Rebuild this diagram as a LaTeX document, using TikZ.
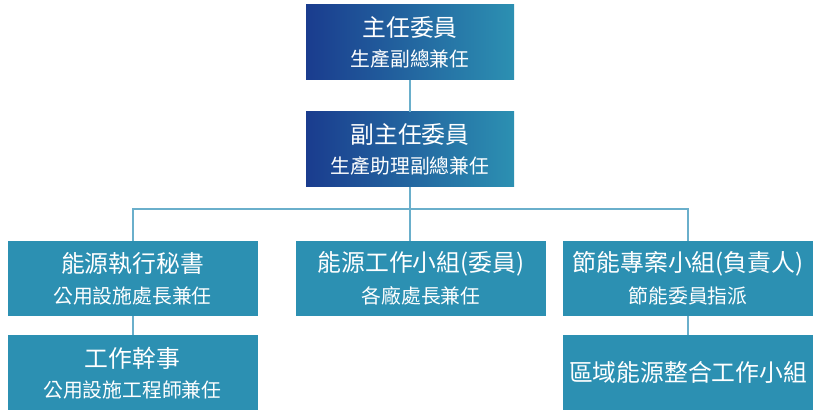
\documentclass[tikz,border=0pt]{standalone}
\usepackage{fontspec}
\newfontfamily\tcfont{Noto Sans CJK TC}
\usetikzlibrary{calc}

\definecolor{boxnavy}{RGB}{26,60,142}
\definecolor{boxteal}{RGB}{44,144,178}
\definecolor{linkblue}{RGB}{106,175,203}

\tikzset{
  topbox/.style={minimum width=208pt,minimum height=75pt,inner sep=0pt,left color=boxnavy,right color=boxteal},
  orgbox/.style={minimum width=250pt,minimum height=75pt,inner sep=0pt,fill=boxteal},
  headtxt/.style={text=white,inner sep=0pt,font=\tcfont\fontsize{23.8}{24}\selectfont},
  subtxt/.style={text=white,inner sep=0pt,font=\tcfont\fontsize{19.8}{20}\selectfont},
  link/.style={draw=linkblue,line width=2pt}
}

\begin{document}
\begin{tikzpicture}[x=1pt,y=1pt,yscale=-1,xscale=1]
\useasboundingbox (0,0) rectangle (820,417);

%Boxes
\node[topbox] (chair) at (410,42.5) {};
\node[topbox] (vice) at (410,149.5) {};
\node[orgbox] (sec) at (132.5,278.5) {};
\node[orgbox] (team) at (421,278.5) {};
\node[orgbox] (proj) at (688,278.5) {};
\node[orgbox] (clerk) at (132.5,372.5) {};
\node[orgbox] (zone) at (688,372.5) {};

%Connectors
\coordinate (bus) at (410,209.5);
\draw[link] (chair.south) -- (vice.north);
\draw[link] (vice.south) -- (vice.south |- team.north);
\draw[link] (sec.north) |- (bus) -| (proj.north);
\draw[link] (sec.south) -- (clerk.north);
\draw[link] (proj.south) -- (zone.north);

% Text Node
\node[headtxt] (chairT) at ($(chair)+(0,-15)$) {主任委員};
\node[subtxt] (chairS) at ($(chair)+(0,16.5)$) {生產副總兼任};
% Text Node
\node[headtxt] (viceT) at ($(vice)+(0,-15)$) {副主任委員};
\node[subtxt] (viceS) at ($(vice)+(0,16.5)$) {生產助理副總兼任};
% Text Node
\node[headtxt] (secT) at ($(sec)+(0,-14.5)$) {能源執行秘書};
\node[subtxt] (secS) at ($(sec)+(0,17.5)$) {公用設施處長兼任};
% Text Node
\node[headtxt] (teamT) at ($(team)+(0,-14.5)$) {能源工作小組(委員)};
\node[subtxt] (teamS) at ($(team)+(0,17.5)$) {各廠處長兼任};
% Text Node
\node[headtxt] (projT) at ($(proj)+(0,-14.5)$) {節能專案小組(負責人)};
\node[subtxt] (projS) at ($(proj)+(0,17.5)$) {節能委員指派};
% Text Node
\node[headtxt] (clerkT) at ($(clerk)+(0,-14.5)$) {工作幹事};
\node[subtxt] (clerkS) at ($(clerk)+(0,17.5)$) {公用設施工程師兼任};
% Text Node
\node[headtxt] (zoneT) at (zone) {區域能源整合工作小組};

\end{tikzpicture}
\end{document}
